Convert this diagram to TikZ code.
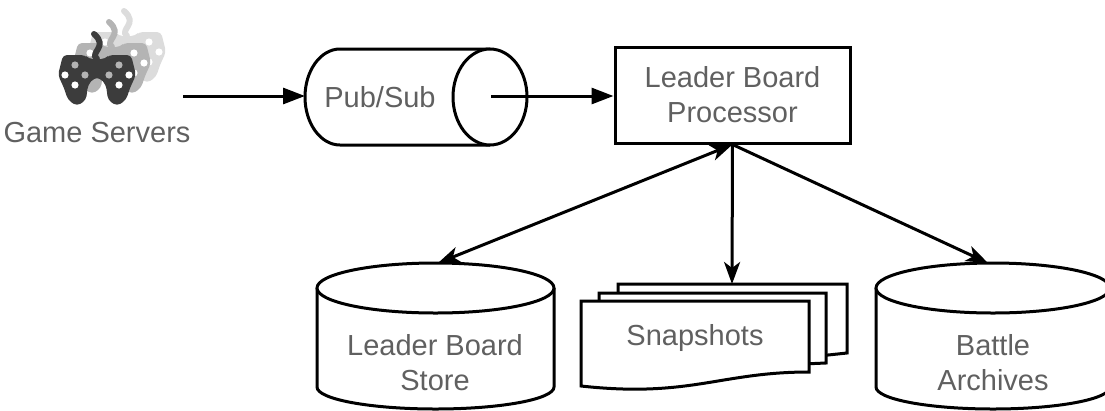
\documentclass[tikz,border=0pt]{standalone}
\usepackage{fontspec}
\setmainfont{Liberation Sans}
\usepackage{tikz}
\usetikzlibrary{positioning,arrows.meta,shapes.geometric}
\definecolor{inkgrey}{HTML}{606060}
\definecolor{padone}{HTML}{3C3C3C}
\definecolor{padtwo}{HTML}{B4B4B4}
\definecolor{padthree}{HTML}{DCDCDC}
\tikzset{
  labeltext/.style={text=inkgrey, font=\fontsize{29}{35}\selectfont, align=center, inner sep=0pt},
  sheet/.style={draw, line width=3pt, fill=white},
  flow/.style={line width=3pt, -{Triangle[length=22pt,width=16pt]}},
  duplex/.style={line width=3pt, {Stealth[length=22pt,width=16pt,inset=6pt]}-{Stealth[length=22pt,width=16pt,inset=6pt]}},
  single/.style={line width=3pt, -{Stealth[length=22pt,width=16pt,inset=6pt]}}
}
% One game pad of the stack, centred on (#1,#2)
\newcommand{\gamepad}[4]{
  \begin{scope}[shift={(#1,#2)}]
    \draw[#3, line width=6pt, line cap=round] (0,-21) .. controls (-8,-28) and (12,-33) .. (-3,-46);
    \fill[#3, rounded corners=4pt] (-34,-25) -- (-12,-25) -- (-8,-21) -- (8,-21) -- (12,-25) -- (34,-25) -- (39,-5) -- (33,8) -- (29,20) -- (20,26) -- (11,20) -- (9,5) -- (3,-2) -- (-3,-2) -- (-9,5) -- (-11,20) -- (-20,26) -- (-29,20) -- (-33,8) -- (-39,-5) -- cycle;
    \foreach \x/\y in {-32/-5,-22/5,32/-5,22/5}
      \fill[white] (\x,\y) circle (3.6pt);
    \foreach \x/\y in {-22/-15,-12/-5,22/-15,12/-5}
      \fill[#4] (\x,\y) circle (3.6pt);
  \end{scope}
}
% Drum of a store, centre x #1 and half width #2
\newcommand{\storedrum}[2]{
  \draw[sheet] (#1-#2,288) -- (#1-#2,387) arc[start angle=180, end angle=360, x radius=#2pt, y radius=22pt] -- (#1+#2,288);
  \draw[sheet] (#1,288) ellipse [x radius=#2, y radius=25];
}
\begin{document}
\begin{tikzpicture}[x=1pt, y=-1pt]
\useasboundingbox (0,0) rectangle (1105,410);
% Game servers
\gamepad{127}{57}{padthree}{white}
\gamepad{112}{68}{padtwo}{white}
\gamepad{97}{80}{padone}{padtwo}
\node[labeltext] (gameservers) at (97,133) {Game Servers};
\coordinate (gameout) at (183,96);
% Queue
\draw[sheet] (490,49) -- (340,49) arc[start angle=90, end angle=270, x radius=35pt, y radius=48pt] -- (490,145);
\draw[sheet] (490,97) ellipse [x radius=37, y radius=48];
\node[labeltext] (pubsub) at (380,97) {Pub/Sub};
\coordinate (pubsubin) at (305,96);
\coordinate (pubsubout) at (491,96);
% Processor
\node[draw, line width=3pt, minimum width=235pt, minimum height=96pt, labeltext] (processor) at (732.5,95) {Leader Board\\Processor};
% Stores
\storedrum{435.5}{118.5}
\node[labeltext] (boardstore) at (435,362.5) {Leader Board\\Store};
\coordinate (boardtop) at (438,263);
\storedrum{993}{117}
\node[labeltext] (archives) at (993,362.5) {Battle\\Archives};
\coordinate (archivetop) at (988,263);
% Snapshot sheets
\draw[sheet] (618,284) -- (847,284) -- (847,353) -- (800,358) -- (618,358) -- cycle;
\draw[sheet] (599,293) -- (826,293) -- (826,363) -- (780,365) -- (599,365) -- cycle;
\draw[sheet] (581,301) -- (809,301) -- (809,372) .. controls (720,372) and (690,398) .. (581,386) -- cycle;
\node[labeltext] (snapshots) at (695,338) {Snapshots};
\coordinate (snapshottop) at (732,284);
% Connectors
\draw[flow] (gameout) -- (pubsubin);
\draw[flow] (pubsubout) -- (processor.west |- pubsubout);
\draw[duplex] (boardtop) -- (processor.south);
\draw[single] (processor.south) -- (snapshottop);
\draw[single] (processor.south) -- (archivetop);
\end{tikzpicture}
\end{document}
